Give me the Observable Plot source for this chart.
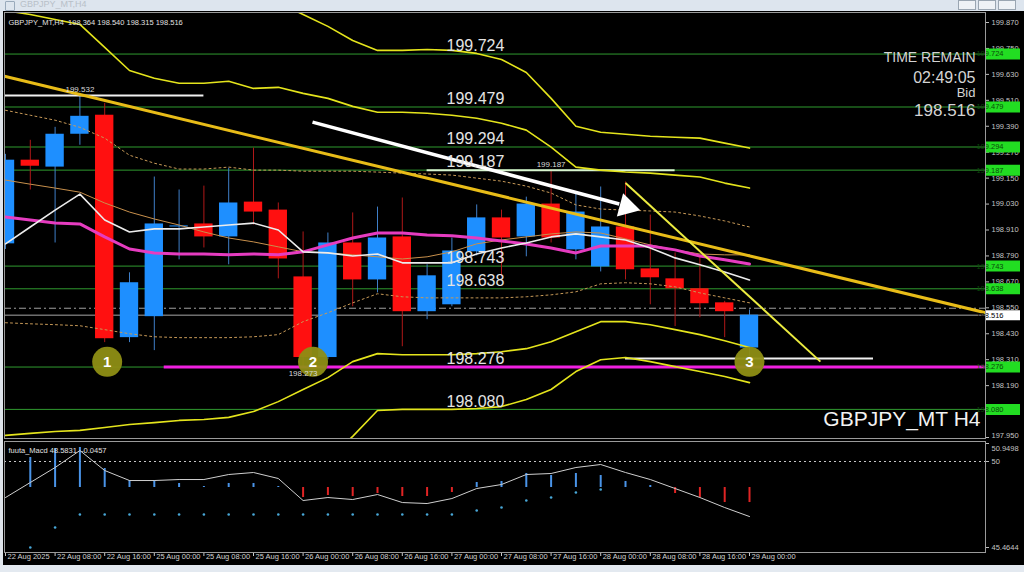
<!DOCTYPE html>
<html><head><meta charset="utf-8">
<script src="https://cdn.jsdelivr.net/npm/d3@7"></script>
<script src="https://cdn.jsdelivr.net/npm/@observablehq/plot@0.6"></script>
<style>
html,body{margin:0;padding:0;width:1024px;height:572px;overflow:hidden;background:#e3e9f0;font-family:"Liberation Sans",Arial,sans-serif}
#wrap{position:relative;width:1024px;height:572px}
#titlebar{position:absolute;left:0;top:0;width:1024px;height:11px;background:#dde5ee}
#title{position:absolute;left:20px;top:-1px;font-size:9px;color:#b8c0c8}
#icon{position:absolute;left:5px;top:1px;width:8px;height:8px;border:1px solid #9ab;border-radius:1px}
.btn{position:absolute;top:0px;width:16px;height:8px;border:1px solid #9aa6b2;background:#eef2f6}
#main{position:absolute;left:0;top:11px}
#macd{position:absolute;left:0;top:439px}
#lborder{position:absolute;left:0;top:11px;width:3px;height:554px;background:#dfe5ec}
</style></head>
<body><div id="wrap">
<div id="titlebar"><div id="icon"></div><div id="title">GBPJPY_MT,H4</div>
<div class="btn" style="left:958px"></div><div class="btn" style="left:978px"></div><div class="btn" style="left:998px"></div></div>
<div id="main"></div><div id="macd"></div><div id="lborder"></div>
</div>
<script>
// ---------- DATA ----------
const times = ["22 Aug 2025","22 Aug 08:00","22 Aug 16:00","25 Aug 00:00","25 Aug 08:00","25 Aug 16:00","26 Aug 00:00","26 Aug 08:00","26 Aug 16:00","27 Aug 00:00","27 Aug 08:00","27 Aug 16:00","28 Aug 00:00","28 Aug 08:00","28 Aug 16:00","29 Aug 00:00"];
const tickIdx = [0,2,4,6,8,10,12,14,16,18,20,22,24,26,28,30];

const open  = [198.846,199.233,199.201,199.353,199.441,198.412,198.509,198.924,198.938,198.878,199.039,199.002,198.693,198.320,198.850,198.679,198.878,198.532,198.564,198.809,198.966,198.878,199.030,198.818,198.739,198.924,198.730,198.684,198.638,198.573,198.364];
const high  = [199.260,199.325,199.385,199.532,199.496,198.712,199.155,199.095,199.113,199.196,199.289,199.035,198.901,198.896,198.989,199.016,199.058,198.749,198.873,199.026,199.002,199.062,199.187,199.081,199.109,199.132,198.979,198.804,198.786,198.580,198.540];
const low   = [198.820,199.095,198.850,199.302,198.389,198.389,198.352,198.772,198.827,198.749,198.933,198.684,198.273,198.310,198.555,198.619,198.370,198.495,198.555,198.790,198.693,198.786,198.850,198.772,198.716,198.679,198.564,198.463,198.504,198.412,198.315];
const close = [199.233,199.205,199.353,199.436,198.407,198.666,198.938,198.929,198.878,199.035,198.993,198.776,198.320,198.850,198.679,198.873,198.532,198.698,198.813,198.966,198.873,199.030,198.873,198.993,198.924,198.726,198.689,198.638,198.569,198.532,198.516];

const pinkMA   = [198.970,198.956,198.942,198.938,198.878,198.822,198.804,198.799,198.799,198.795,198.799,198.795,198.809,198.841,198.873,198.896,198.896,198.887,198.883,198.873,198.859,198.845,198.827,198.804,198.836,198.836,198.836,198.818,198.790,198.772,198.753];
const whiteMA  = [198.846,198.924,199.002,199.076,198.956,198.901,198.915,198.915,198.924,198.933,198.942,198.910,198.809,198.804,198.790,198.799,198.758,198.758,198.758,198.799,198.827,198.850,198.878,198.892,198.878,198.864,198.827,198.781,198.749,198.716,198.679];
const orangeMA = [199.141,199.122,199.104,199.085,199.035,198.993,198.961,198.933,198.901,198.873,198.855,198.832,198.809,198.804,198.795,198.786,198.776,198.786,198.809,198.846,198.864,198.878,198.892,198.901,198.896,198.869,198.841,198.818,198.799,198.795,198.795];
const upperDot = [199.464,199.441,199.418,199.385,199.335,199.256,199.219,199.192,199.192,199.201,199.187,199.187,199.182,199.182,199.182,199.178,199.173,199.169,199.164,199.150,199.136,199.113,199.081,199.026,199.007,199.002,198.998,198.993,198.975,198.952,198.924];
const lowerDot = [198.481,198.476,198.472,198.467,198.449,198.430,198.416,198.412,198.412,198.412,198.416,198.426,198.486,198.527,198.573,198.615,198.601,198.596,198.596,198.596,198.596,198.601,198.610,198.624,198.661,198.666,198.661,198.647,198.619,198.596,198.573];
const bandUp1  = [199.925,199.907,199.884,199.861,199.755,199.648,199.612,199.589,199.589,199.598,199.565,199.570,199.542,199.519,199.482,199.455,199.455,199.450,199.441,199.427,199.404,199.372,199.293,199.201,199.187,199.178,199.173,199.164,199.155,199.127,199.104];
const bandUp2  = [null,null,null,null,null,null,null,null,null,null,null,199.962,199.907,199.852,199.787,199.741,199.741,199.745,199.741,199.727,199.699,199.639,199.519,199.390,199.362,199.353,199.344,199.339,199.335,199.312,199.289];
const bandLo1  = [197.960,197.969,197.978,197.983,197.996,198.010,198.019,198.029,198.033,198.043,198.070,198.116,198.172,198.227,198.301,198.338,198.333,198.333,198.333,198.338,198.347,198.361,198.393,198.439,198.486,198.486,198.472,198.449,198.426,198.398,198.366];
const bandLo2  = [null,null,null,null,null,null,null,null,null,null,null,null,null,197.850,197.955,198.075,198.080,198.080,198.080,198.084,198.093,198.126,198.172,198.255,198.310,198.320,198.301,198.278,198.255,198.232,198.204];

const levels = [199.724,199.479,199.294,199.187,198.743,198.638,198.276,198.080];
const priceTicks = [199.870,199.750,199.630,199.510,199.390,199.270,199.150,199.030,198.910,198.790,198.670,198.550,198.430,198.310,198.190,198.070,197.950];
const bid = 198.516;
const askLine = 198.548;
const magentaLevel = 198.276, magentaFrom = 6.4, magentaTo = 39.5;
const hLineY = [199.532,199.187,198.315];
const hLineFrom = [0,17,25];
const hLineTo = [8,27,35];
const hLineText = ["199.532","199.187","198.315"];
const hLineTextIdx = [3,22,30];
const lowMarkText = "198.273", lowMarkIdx = 12, lowMarkY = 198.273;

const trendX1 = [-0.04, 25.0], trendY1 = [199.621, 199.127];
const trendX2 = [39.52, 32.86], trendY2 = [198.527, 198.301];
const arrowX1 = 12.38, arrowY1 = 199.409, arrowX2 = 24.75, arrowY2 = 199.030, arrowHeadX = 25.05, arrowHeadY = 199.018;

const circleIdx = [4.1, 12.4, 30.0];
const circleY = [198.300, 198.300, 198.300];
const circleText = ["1","2","3"];

const infoText = ["TIME REMAIN","02:49:05","Bid","198.516"];
const symbolText = "GBPJPY_MT H4";
const headerText = "GBPJPY_MT,H4  198.364 198.540 198.315 198.516";

// MACD panel
const macdSignal = [48.100,48.892,49.683,50.580,49.525,48.997,48.997,49.050,49.050,49.314,49.420,49.103,47.942,48.100,47.995,48.259,47.836,47.784,48.047,48.575,48.786,49.314,49.367,49.683,49.842,49.420,49.050,48.575,48.100,47.573,47.098];
const macdHist = [null,50.211,50.686,50.739,49.631,48.997,48.997,48.839,48.681,48.839,48.839,48.681,48.100,48.206,48.153,48.311,48.153,48.153,48.364,48.892,48.945,49.367,49.261,49.367,49.261,48.945,48.734,48.311,48.100,47.836,47.836];
const macdBase = 48.628;
const macdDots = [null,45.462,46.517,47.203,47.203,47.203,47.203,47.203,47.203,47.203,47.203,47.203,47.203,47.203,47.203,47.203,47.203,47.203,47.203,47.414,47.573,47.942,48.100,48.364,48.522,null,null,null,null,null,null];
const macdTicks = [50.9498, 50, 45.4644];
const macdLevel = 50;
const macdHeader = "fuuta_Macd 48.5831  -0.0457";

// ---------- DRAW ----------
const idx = open.map((_, i) => i);
const F = "'Liberation Sans', Arial, sans-serif";
const BLUE = "#1e8fff", RED = "#ff1010";
const xScale = {type: "linear", domain: [0, 30], range: [5, 749]};

const seg = (arr) => idx.map(i => ({i, v: arr[i]}));
const lineOf = (arr, o) => Plot.line(seg(arr), {x: "i", y: "v", defined: d => d.v != null, clip: true, ...o});
// tick labels fully hidden behind a badge in the reference are not drawn
const hidden = (t) => levels.some(l => Math.abs(l - t) < 0.015);
const lastTick = priceTicks[priceTicks.length - 1];
const axisStyle = {frameAnchor: "right", dx: 6, textAnchor: "start", fill: "#c4c4c4", fontSize: 7.5, fontFamily: F};
const infoStyle = {frameAnchor: "top-right", text: d => d, dx: -10, textAnchor: "end", fill: "#d4d4d4", fontFamily: F};

const main = Plot.plot({
  width: 1024, height: 429,
  marginLeft: 4, marginRight: 39, marginTop: 1, marginBottom: 2,
  style: {background: "#000", color: "#c8c8c8", fontFamily: F, overflow: "visible"},
  x: {...xScale, axis: null},
  y: {type: "linear", domain: [197.95, 199.87], range: [426, 11], axis: null},
  marks: [
    Plot.ruleY(levels, {y: d => d, stroke: "#2f9a2f", strokeWidth: 1}),
    Plot.ruleY([bid], {y: d => d, stroke: "#a8a8a8", strokeWidth: 1}),
    Plot.ruleY([askLine], {y: d => d, stroke: "#a0a0a0", strokeWidth: 1, strokeDasharray: "7,3,2,3"}),
    // candles
    Plot.ruleX(idx, {x: i => i, y1: i => low[i], y2: i => high[i], stroke: i => close[i] >= open[i] ? "#3f7fc8" : "#b01818", strokeWidth: 1, clip: true}),
    Plot.rect(idx, {x1: i => i - 0.37, x2: i => i + 0.37, y1: i => open[i], y2: i => close[i], fill: i => close[i] >= open[i] ? BLUE : RED, clip: true}),
    // partial white lines
    Plot.ruleY(hLineY, {y: d => d, x1: (d, k) => hLineFrom[k], x2: (d, k) => hLineTo[k], stroke: (d, k) => k === 1 ? "#d8f5d0" : "#f0f0f0", strokeWidth: 2, clip: true}),
    Plot.ruleY([magentaLevel], {y: d => d, x1: magentaFrom, x2: magentaTo, stroke: "#f020e0", strokeWidth: 3}),
    // envelopes (dotted)
    lineOf(upperDot, {stroke: "#c89a58", strokeWidth: 1, strokeDasharray: "2,3"}),
    lineOf(lowerDot, {stroke: "#c89a58", strokeWidth: 1, strokeDasharray: "2,3"}),
    // bands
    lineOf(bandUp1, {stroke: "#e4e41c", strokeWidth: 1.6}),
    lineOf(bandUp2, {stroke: "#e4e41c", strokeWidth: 1.6}),
    lineOf(bandLo1, {stroke: "#e4e41c", strokeWidth: 1.6}),
    lineOf(bandLo2, {stroke: "#e4e41c", strokeWidth: 1.6}),
    // moving averages
    lineOf(orangeMA, {stroke: "#c8904c", strokeWidth: 1}),
    lineOf(pinkMA, {stroke: "#e63cc0", strokeWidth: 3}),
    lineOf(whiteMA, {stroke: "#ececec", strokeWidth: 1.6}),
    // trend lines
    Plot.link([0], {x1: d => trendX1[0], y1: d => trendY1[0], x2: d => trendX2[0], y2: d => trendY2[0], stroke: "#e8bc18", strokeWidth: 3, clip: true}),
    Plot.link([1], {x1: d => trendX1[1], y1: d => trendY1[1], x2: d => trendX2[1], y2: d => trendY2[1], stroke: "#ecec40", strokeWidth: 2, clip: true}),
    // white arrow
    Plot.link([0], {x1: () => arrowX1, y1: () => arrowY1, x2: () => arrowX2, y2: () => arrowY2, stroke: "#ffffff", strokeWidth: 3.5}),
    Plot.dot([0], {x: () => arrowHeadX, y: () => arrowHeadY, symbol: "triangle", r: 9, fill: "#ffffff", rotate: 105}),
    // level labels
    Plot.text(levels, {y: d => d, text: d => d.toFixed(3), frameAnchor: "left", dx: 442, dy: -8, textAnchor: "start", fill: "#e4e4e4", fontSize: 16, fontFamily: F}),
    Plot.text(hLineText, {x: (d, k) => hLineTextIdx[k], y: (d, k) => hLineY[k], text: d => d, dy: -6, fill: "#d8d8d8", fontSize: 8, fontFamily: F, filter: (d, k) => k < 2}),
    // numbered circles
    Plot.dot(circleText, {x: (d, k) => circleIdx[k], y: (d, k) => circleY[k], r: 15, fill: "#8e8e14", fillOpacity: 0.95}),
    Plot.text(circleText, {x: (d, k) => circleIdx[k], y: (d, k) => circleY[k], text: d => d, fill: "#ffffff", fontSize: 15, fontWeight: "bold", fontFamily: F}),
    Plot.text([lowMarkText], {x: () => lowMarkIdx, y: () => lowMarkY, text: d => d, dy: 6, fill: "#d8d8d8", fontSize: 8, fontFamily: F}),
    // info texts
    Plot.text([infoText[0]], {...infoStyle, dy: 40, fontSize: 14}),
    Plot.text([infoText[1]], {...infoStyle, dy: 59, fontSize: 16}),
    Plot.text([infoText[2]], {...infoStyle, dy: 75, fontSize: 13}),
    Plot.text([infoText[3]], {...infoStyle, dy: 91, fontSize: 17}),
    Plot.text([symbolText], {frameAnchor: "bottom-right", text: d => d, dx: -5, dy: -13, textAnchor: "end", fill: "#f2f2f2", fontSize: 21, fontFamily: F}),
    Plot.text([headerText], {frameAnchor: "top-left", text: d => d, dx: 4, dy: 7, textAnchor: "start", fill: "#e0e0e0", fontSize: 7.5, fontFamily: F}),
    // right price axis
    Plot.ruleY(priceTicks, {y: d => d, insetLeft: 981, insetRight: -4, stroke: "#bdbdbd"}),
    Plot.text(priceTicks.filter(t => !hidden(t) && t !== lastTick), {y: d => d, text: d => d.toFixed(3), ...axisStyle}),
    Plot.text([lastTick], {y: d => d, text: d => d.toFixed(3), ...axisStyle, dy: -2}),
    // badges
    Plot.ruleY(levels, {y: d => d, insetLeft: 982, insetRight: -35, stroke: "#22dd22", strokeWidth: 11}),
    Plot.text(levels, {y: d => d, text: d => d.toFixed(3), frameAnchor: "right", dx: 18, fill: "#0a4a0a", fontSize: 7.5, fontFamily: F}),
    Plot.ruleY([bid], {y: d => d, insetLeft: 982, insetRight: -35, stroke: "#ffffff", strokeWidth: 10}),
    Plot.text([bid], {y: d => d, text: d => d.toFixed(3), frameAnchor: "right", dx: 18, fill: "#000", fontSize: 7.5, fontFamily: F}),
    Plot.frame({stroke: "#9a9a9a"})
  ]
});
document.getElementById("main").appendChild(main);

const macd = Plot.plot({
  width: 1024, height: 126,
  marginLeft: 4, marginRight: 39, marginTop: 2, marginBottom: 13,
  style: {background: "#000", color: "#c8c8c8", fontFamily: F, overflow: "visible"},
  x: {...xScale, axis: null},
  y: {type: "linear", domain: [45.4644, 50.9498], range: [108, 4], axis: null},
  marks: [
    Plot.ruleY([macdLevel], {y: d => d, stroke: "#c8c8c8", strokeDasharray: "2,3"}),
    Plot.ruleX(idx.filter(i => macdHist[i] != null), {x: i => i, y1: () => macdBase, y2: i => macdHist[i], stroke: i => macdHist[i] >= macdBase ? "#4a94e8" : "#e02424", strokeWidth: 2}),
    Plot.dot(idx.filter(i => macdDots[i] != null), {x: i => i, y: i => macdDots[i], r: 1.3, fill: "#48a8d8"}),
    lineOf(macdSignal, {stroke: "#cfcfcf", strokeWidth: 1}),
    Plot.text([macdHeader], {frameAnchor: "top-left", text: d => d, dx: 4, dy: 6, textAnchor: "start", fill: "#e0e0e0", fontSize: 7.5, fontFamily: F}),
    Plot.ruleY(macdTicks, {y: d => d, insetLeft: 981, insetRight: -4, stroke: "#bdbdbd"}),
    Plot.text(macdTicks.slice(1), {y: d => d, text: d => String(d), ...axisStyle}),
    Plot.text(macdTicks.slice(0, 1), {y: d => d, text: d => String(d), ...axisStyle, dy: 5}),
    Plot.ruleX(tickIdx, {x: d => d, insetTop: 111, insetBottom: -4, stroke: "#c8c8c8"}),
    Plot.text(tickIdx, {x: d => d, text: (d, k) => times[k], frameAnchor: "bottom", dx: 2, dy: 6, textAnchor: "start", fill: "#d0d0d0", fontSize: 7.5, fontFamily: F}),
    Plot.frame({stroke: "#9a9a9a"})
  ]
});
document.getElementById("macd").appendChild(macd);
</script>
</body></html>
